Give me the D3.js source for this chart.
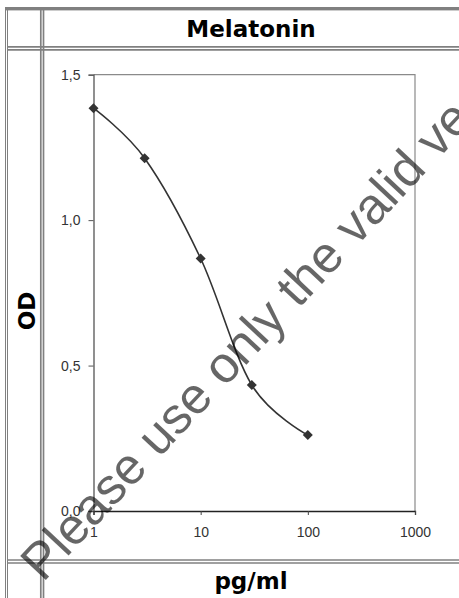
<!DOCTYPE html>
<html>
<head>
<meta charset="utf-8">
<script src="https://cdn.jsdelivr.net/npm/d3@7"></script>
<style>
  body { margin: 0; background: #fff; }
  svg { display: block; }
  .tick-label { font-family: "Liberation Sans", Arial, sans-serif; font-size: 14px; fill: #333; }
  .head { font-family: "DejaVu Sans", Verdana, sans-serif; font-weight: bold; font-size: 23px; fill: #000; }
</style>
</head>
<body>
<div id="chart"></div>
<script>
var concentrations = [1, 3, 10, 30, 100]
  , odValues = [1.385, 1.213, 0.868, 0.433, 0.261]
  , xTicks = [1, 10, 100, 1000]
  , yTicks = [0, 0.5, 1.0, 1.5]
  , title = "Melatonin"
  , yTitle = "OD"
  , xTitle = "pg/ml"
  , watermark = "Please use only the valid ve";

var width = 459
  , height = 598
  , plot = { left: 93.5, right: 415, top: 74.7, bottom: 511 }
  , gridColor = "#808080";

var svg = d3.select("#chart").append("svg")
    .attr("width", width)
    .attr("height", height);

// table frame (double lines like the html table)
var vLines = [5.5, 7.5, 40.8, 43.5]
  , hLines = [46.8, 49.8, 560, 563];

svg.append("rect")
    .attr("x", 5)
    .attr("y", 7)
    .attr("width", width - 5)
    .attr("height", 3.4)
    .attr("fill", gridColor);

svg.append("g")
    .selectAll("line")
    .data(vLines)
  .enter().append("line")
    .attr("x1", d => d)
    .attr("x2", d => d)
    .attr("y1", 7)
    .attr("y2", height)
    .attr("stroke", gridColor)
    .attr("stroke-width", (d, i) => i < 2 ? 1 : 1.7);

svg.append("g")
    .selectAll("line")
    .data(hLines)
  .enter().append("line")
    .attr("x1", 7)
    .attr("x2", width)
    .attr("y1", d => d)
    .attr("y2", d => d)
    .attr("stroke", gridColor)
    .attr("stroke-width", 1.7);

// headers
svg.append("text")
    .attr("class", "head")
    .attr("x", 251)
    .attr("y", 37)
    .attr("text-anchor", "middle")
    .text(title);

svg.append("text")
    .attr("class", "head")
    .attr("transform", "translate(35,311) rotate(-90)")
    .attr("text-anchor", "middle")
    .text(yTitle);

svg.append("text")
    .attr("class", "head")
    .attr("x", 251)
    .attr("y", 589)
    .attr("text-anchor", "middle")
    .text(xTitle);

// scales
var x = d3.scaleLog()
    .domain([1, 1000])
    .range([plot.left, plot.right]);

var y = d3.scaleLinear()
    .domain([0, 1.5])
    .range([plot.bottom, plot.top]);

var fmt = d => d3.format(".1f")(d).replace(".", ",");

// plot area border (top + right)
svg.append("path")
    .attr("d", "M" + plot.left + "," + plot.top + "H" + plot.right + "V" + plot.bottom)
    .attr("fill", "none")
    .attr("stroke", "#8a8a8a")
    .attr("stroke-width", 1.2);

var yAxis = svg.append("g")
    .attr("transform", "translate(" + plot.left + ",0)")
    .call(d3.axisLeft(y).tickValues(yTicks).tickFormat(fmt).tickSize(5).tickPadding(8));

yAxis.select(".domain").attr("stroke", "#555").attr("stroke-width", 1.3);
yAxis.selectAll(".tick line").attr("stroke", "#555");
yAxis.selectAll(".tick text").attr("class", "tick-label").attr("fill", null)
    .attr("font-family", null).attr("font-size", null);

var xAxis = svg.append("g")
    .attr("transform", "translate(0," + plot.bottom + ")")
    .call(d3.axisBottom(x).tickValues(xTicks).tickFormat(d3.format("d")).tickSize(4).tickPadding(12));

xAxis.select(".domain").attr("stroke", "#222").attr("stroke-width", 1.3);
xAxis.selectAll(".tick line").attr("stroke", "#444");
xAxis.selectAll(".tick text").attr("class", "tick-label").attr("fill", null)
    .attr("font-family", null).attr("font-size", null);

// smoothed curve
var line = d3.line()
    .x((d, i) => x(concentrations[i]))
    .y(d => y(d))
    .curve(d3.curveCardinal.tension(0));

svg.append("path")
    .datum(odValues)
    .attr("d", line)
    .attr("fill", "none")
    .attr("stroke", "#333")
    .attr("stroke-width", 1.6);

svg.append("g")
    .selectAll("path")
    .data(odValues)
  .enter().append("path")
    .attr("d", d3.symbol(d3.symbolSquare, 50))
    .attr("transform", (d, i) => "translate(" + x(concentrations[i]) + "," + y(d) + ") rotate(45)")
    .attr("fill", "#333");

// watermark
svg.append("text")
    .attr("transform", "translate(43,583) rotate(-47)")
    .attr("font-family", "Liberation Sans, Arial, sans-serif")
    .attr("font-size", 51)
    .attr("fill", "#000")
    .attr("fill-opacity", 0.6)
    .text(watermark);
</script>
</body>
</html>
